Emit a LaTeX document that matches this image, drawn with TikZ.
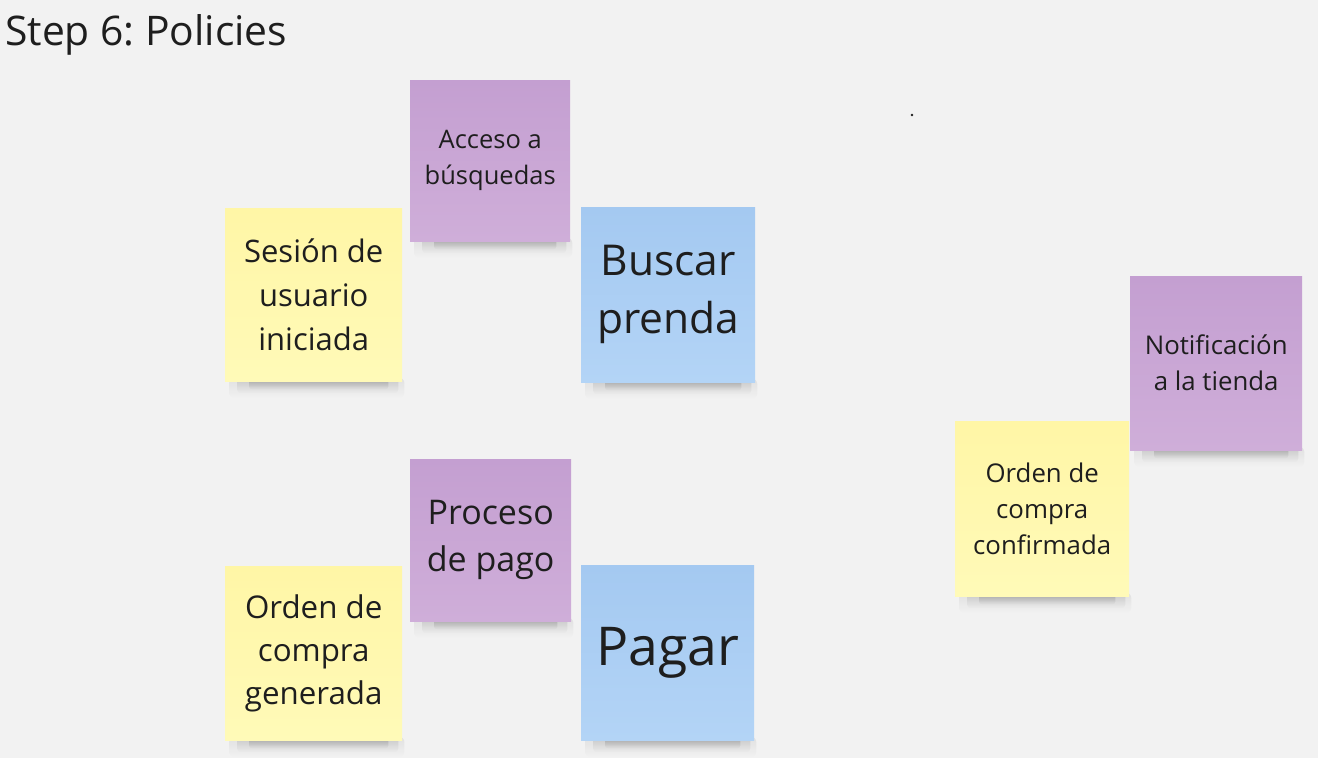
\documentclass[tikz,border=0pt]{standalone}
\usepackage{fontspec}
\setmainfont{Open Sans}
\usetikzlibrary{calc,fadings,backgrounds}
\definecolor{bg}{HTML}{F2F2F2}
\definecolor{ytop}{HTML}{FFF6A6}
\definecolor{ybot}{HTML}{FFFAB8}
\definecolor{ptop}{HTML}{C49FD1}
\definecolor{pbot}{HTML}{CFAED9}
\definecolor{btop}{HTML}{A4C9F1}
\definecolor{bbot}{HTML}{B3D4F6}
\definecolor{ink}{HTML}{1E1E1E}
\tikzset{
  note/.style={anchor=north west, inner sep=0pt, align=center, text=ink},
  ynote/.style={note, top color=ytop, bottom color=ybot},
  pnote/.style={note, top color=ptop, bottom color=pbot},
  bnote/.style={note, top color=btop, bottom color=bbot},
  shadeA/.style={fill=black, opacity=0.07, path fading=south, rounded corners=6pt},
  shadeB/.style={fill=black, opacity=0.12, path fading=south, rounded corners=4pt},
  shadeC/.style={fill=black, opacity=0.2, path fading=south, rounded corners=3pt},
}
\newcommand{\noteshadow}[1]{%
  \fill[shadeA] ($(#1.south west)+(4,-4)$) rectangle ($(#1.south east)+(2,17)$);
  \fill[shadeB] ($(#1.south west)+(12,-4)$) rectangle ($(#1.south east)+(-4,12)$);
  \fill[shadeC] ($(#1.south west)+(24,-4)$) rectangle ($(#1.south east)+(-14,8)$);}
\begin{document}
\frenchspacing
\begin{tikzpicture}[x=1pt,y=-1pt]
\node[anchor=west, text=ink, font=\fontsize{40.8}{44}\selectfont, inner sep=0pt] (title) at (5,35) {Step 6: Policies};
\fill[ink] (912,115) circle (1.3);

\node[pnote, minimum width=160pt, minimum height=161pt, font=\fontsize{25.5}{36}\selectfont] (acc) at (410,80) {Acceso a\\búsquedas};
\node[ynote, minimum width=177pt, minimum height=173pt, font=\fontsize{31}{44}\selectfont] (ses) at (225,208) {Sesión de\\usuario\\iniciada};
\node[bnote, minimum width=174pt, minimum height=175pt, font=\fontsize{42.5}{58}\selectfont] (bus) at (581,207) {Buscar\\prenda};

\node[pnote, minimum width=161pt, minimum height=162pt, font=\fontsize{34}{47}\selectfont] (pro) at (410,459) {Proceso\\de pago};
\node[ynote, minimum width=177pt, minimum height=174pt, font=\fontsize{31.3}{43}\selectfont] (ogen) at (225,566) {Orden de\\compra\\generada};
\node[bnote, minimum width=173pt, minimum height=175pt, font=\fontsize{53.5}{60}\selectfont] (pag) at (581,565) {Pagar};

\node[pnote, minimum width=172pt, minimum height=174pt, font=\fontsize{25.8}{36}\selectfont] (not) at (1130,276) {Notificación\\a la tienda};
\node[ynote, minimum width=174pt, minimum height=175pt, font=\fontsize{25.8}{36}\selectfont] (oconf) at (955,421) {Orden de\\compra\\confirmada};

\begin{pgfonlayer}{background}
\fill[bg] (0,0) rectangle (1318,758);
\noteshadow{acc}
\noteshadow{ses}
\noteshadow{bus}
\noteshadow{pro}
\noteshadow{ogen}
\noteshadow{pag}
\noteshadow{not}
\noteshadow{oconf}
\end{pgfonlayer}
\end{tikzpicture}
\end{document}
